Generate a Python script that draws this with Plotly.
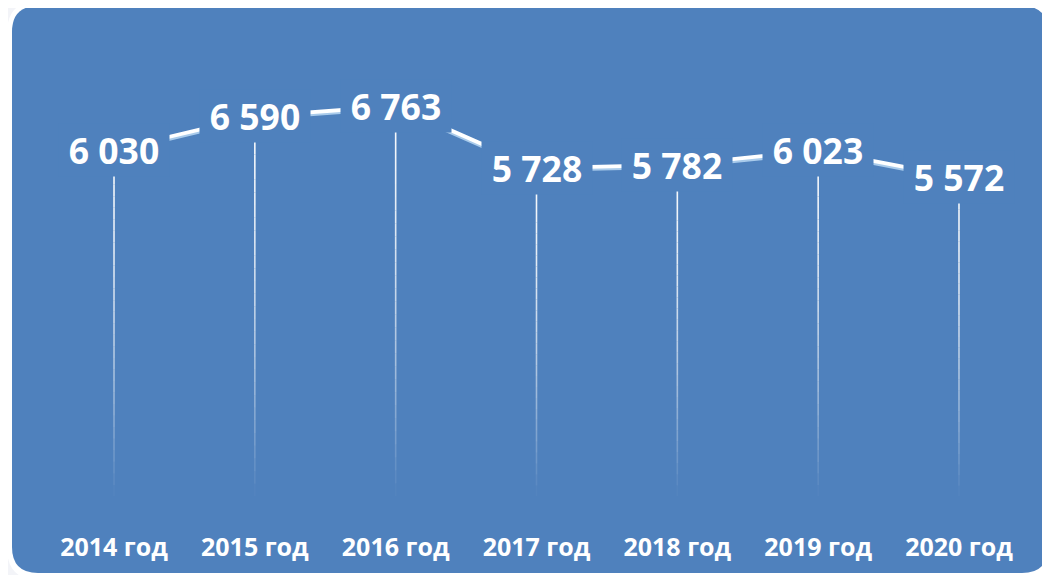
import plotly.graph_objects as go

# ---- data ----
years = ["2014 год", "2015 год", "2016 год", "2017 год", "2018 год", "2019 год", "2020 год"]
values = [6030, 6590, 6763, 5728, 5782, 6023, 5572]
value_labels = ["6 030", "6 590", "6 763", "5 728", "5 782", "6 023", "5 572"]

# page body has an 8px margin; figure is sized/positioned to compensate
OFF = 8
W, H = 1050 - OFF, 575 - OFF
BLUE = "#4F81BD"
Y_MIN, Y_MAX = 255, 7588
PLOT_TOP, PLOT_BOTTOM = 56.5, 496.5

xs = list(range(len(years)))

fig = go.Figure()

px_per_unit = (PLOT_BOTTOM - PLOT_TOP) / (Y_MAX - Y_MIN)
shadow_off = 2.2 / px_per_unit
fig.add_trace(go.Scatter(x=xs, y=[v - shadow_off for v in values], mode="lines",
                         line=dict(color="#A9CBEB", width=3.5), hoverinfo="skip", showlegend=False))
fig.add_trace(go.Scatter(x=xs, y=values, mode="lines",
                         line=dict(color="white", width=3.8), hoverinfo="skip", showlegend=False))


def to_paper(x, y):
    # x, y in reference-screen pixels
    return (x - OFF) / W, 1 - (y - OFF) / H


def rrect_path(x0, y0, x1, y1, r):
    def P(x, y):
        a, b = to_paper(x, y)
        return f"{a:.5f},{b:.5f}"
    return (f"M {P(x0 + r, y0)} L {P(x1 - r, y0)} Q {P(x1, y0)} {P(x1, y0 + r)} "
            f"L {P(x1, y1 - r)} Q {P(x1, y1)} {P(x1 - r, y1)} "
            f"L {P(x0 + r, y1)} Q {P(x0, y1)} {P(x0, y1 - r)} "
            f"L {P(x0, y0 + r)} Q {P(x0, y0)} {P(x0 + r, y0)} Z")


shapes = [
    dict(type="path", xref="paper", yref="paper", layer="below",
         path=rrect_path(7, 1, 1056, 580, 32), fillcolor="white", line=dict(width=0)),
    dict(type="path", xref="paper", yref="paper", layer="below",
         path=rrect_path(12, 6, 1048, 573, 26), fillcolor=BLUE, line=dict(width=0)),
]

# fading drop lines
N = 30
for i, v in zip(xs, values):
    for k in range(N):
        t0 = k / N
        t1 = (k + 1) / N
        ya = v - (v - Y_MIN) * t0
        yb = v - (v - Y_MIN) * t1
        op = max(0.0, 1 - ((t0 + t1) / 2) ** 1.7) * 0.95
        shapes.append(dict(type="line", xref="x", yref="y", layer="below",
                           x0=i, x1=i, y0=ya, y1=yb,
                           line=dict(color=f"rgba(255,255,255,{op:.3f})", width=1.6)))

annotations = []
for i, v, lab in zip(xs, values, value_labels):
    annotations.append(dict(x=i, y=v, xref="x", yref="y", text=lab, showarrow=False,
                            xanchor="center", yanchor="middle", width=110, height=52,
                            font=dict(family="Open Sans", size=35.5, color="white", weight="bold"),
                            bgcolor=BLUE, borderpad=0))

fig.update_layout(
    width=W, height=H,
    margin=dict(l=0, r=0, t=0, b=0),
    paper_bgcolor="#F3F4F8",
    plot_bgcolor="rgba(0,0,0,0)",
    shapes=shapes,
    annotations=annotations,
    showlegend=False,
    xaxis=dict(domain=[(43.6 - OFF) / W, (1029.4 - OFF) / W], range=[-0.5, 6.5],
               tickmode="array", tickvals=xs, ticktext=years,
               showgrid=False, zeroline=False, showline=False, ticks="",
               ticklabelstandoff=33, automargin=False,
               tickfont=dict(family="Open Sans", size=25, color="white", weight="bold")),
    yaxis=dict(domain=[1 - (PLOT_BOTTOM - OFF) / H, 1 - (PLOT_TOP - OFF) / H], range=[Y_MIN, Y_MAX],
               showgrid=False, zeroline=False, showline=False, showticklabels=False,
               automargin=False),
)

fig.write_html("out.html")
